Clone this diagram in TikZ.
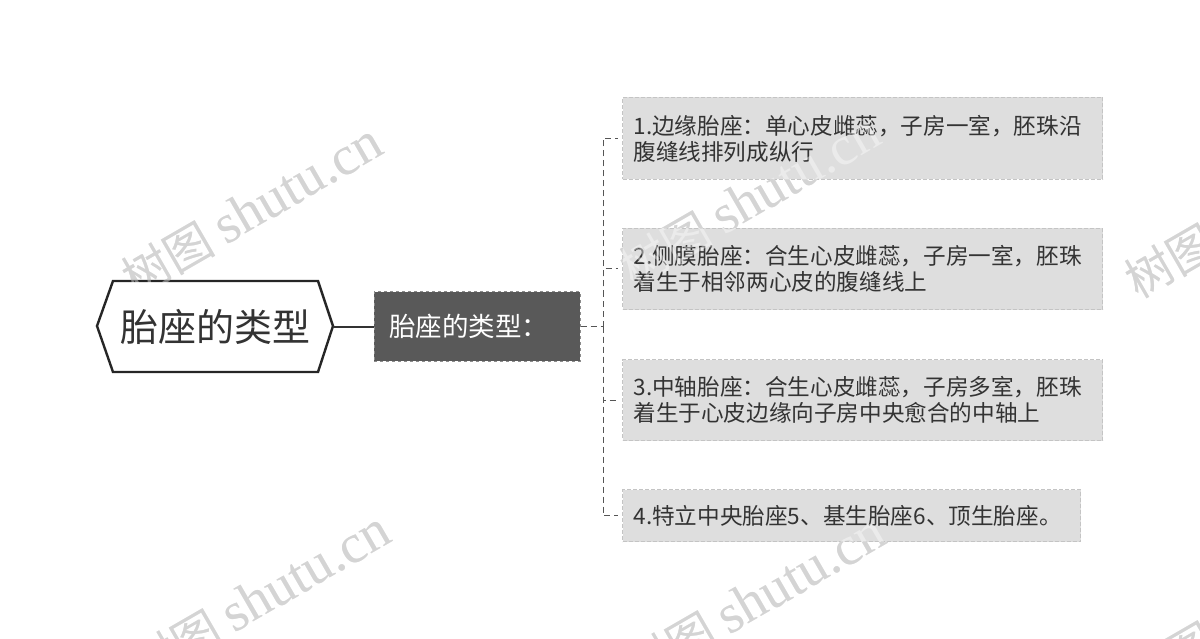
\documentclass[tikz,border=0pt]{standalone}
\usepackage{fontspec}
\setmainfont{Noto Sans CJK SC}
\newfontfamily\cjk{Noto Sans CJK SC}
\newfontfamily\wmserif{Liberation Serif}
\definecolor{txt}{HTML}{333333}
\definecolor{darkfill}{HTML}{595959}
\definecolor{leaf}{HTML}{DEDEDE}
\definecolor{leafline}{HTML}{C4C4C4}
\definecolor{conn}{HTML}{555555}
\definecolor{wm}{HTML}{B8B8B8}
\newcommand{\wmtext}{\cjk\fontsize{47}{47}\selectfont 树图 \wmserif\fontsize{55}{55}\selectfont shutu.cn}
\begin{document}
\begin{tikzpicture}[x=1pt,y=-1pt,
  leafbox/.style={draw=leafline, dashed, dash pattern=on 4pt off 2pt, line width=1pt, fill=leaf,
    text=txt, font=\cjk\fontsize{22.6}{26}\selectfont, anchor=north west, inner xsep=11pt,
    align=left, text width=#1},
  conline/.style={draw=conn, line width=1pt, dash pattern=on 6pt off 4pt},
  wmark/.style={text=wm, rotate=30, anchor=center},
  wmtop/.style={text=white, text opacity=0.4, rotate=30, anchor=center}
]
\useasboundingbox (0,0) rectangle (1200,639);
% watermarks (under layer)
\foreach \cx/\cy in {252/210, 750/200, 1255/212, 260/598, 755/600, 1255/610}{
  \node[wmark] at (\cx,\cy) {\wmtext};
}
% root hexagon
\draw[line width=2.4pt, draw=black!85, fill=white, line join=miter]
  (97,326) -- (113,281) -- (318,281) -- (333,326) -- (318,372) -- (113,372) -- cycle;
\node[text=txt, font=\cjk\fontsize{38}{44}\selectfont, minimum width=236pt, minimum height=91pt, inner sep=0pt]
  (root) at (215,326.5) {胎座的类型};
% middle node
\node[draw=black!45, dashed, line width=1pt, fill=darkfill, text=white,
  font=\cjk\fontsize{26.5}{30}\selectfont, minimum width=206pt, minimum height=69pt,
  inner xsep=15pt, text width=176pt, align=left] (mid) at (477,326.5) {胎座的类型：};
% leaves
\node[leafbox=458pt, minimum height=82pt] (l1) at (622,97) {1.边缘胎座：单心皮雌蕊，子房一室，胚珠沿\\腹缝线排列成纵行};
\node[leafbox=458pt, minimum height=81pt] (l2) at (622,228) {2.侧膜胎座：合生心皮雌蕊，子房一室，胚珠\\着生于相邻两心皮的腹缝线上};
\node[leafbox=458pt, minimum height=81pt] (l3) at (622,359) {3.中轴胎座：合生心皮雌蕊，子房多室，胚珠\\着生于心皮边缘向子房中央愈合的中轴上};
\node[leafbox=436pt, minimum height=52pt] (l4) at (622,489) {4.特立中央胎座5、基生胎座6、顶生胎座。};
% connectors
\draw[draw=txt, line width=2pt] (root.east) -- (mid.west);
\coordinate (bus) at (603,326.5);
\draw[conline] (mid.east) -- (bus);
\foreach \n in {l1,l2,l3,l4}{
  \draw[conline] (bus) |- ([xshift=-4pt]\n.west);
}
% watermarks (light top layer)
\foreach \cx/\cy in {252/210, 750/200, 1255/212, 260/598, 755/600, 1255/610}{
  \node[wmtop] at (\cx,\cy) {\wmtext};
}
\end{tikzpicture}
\end{document}
